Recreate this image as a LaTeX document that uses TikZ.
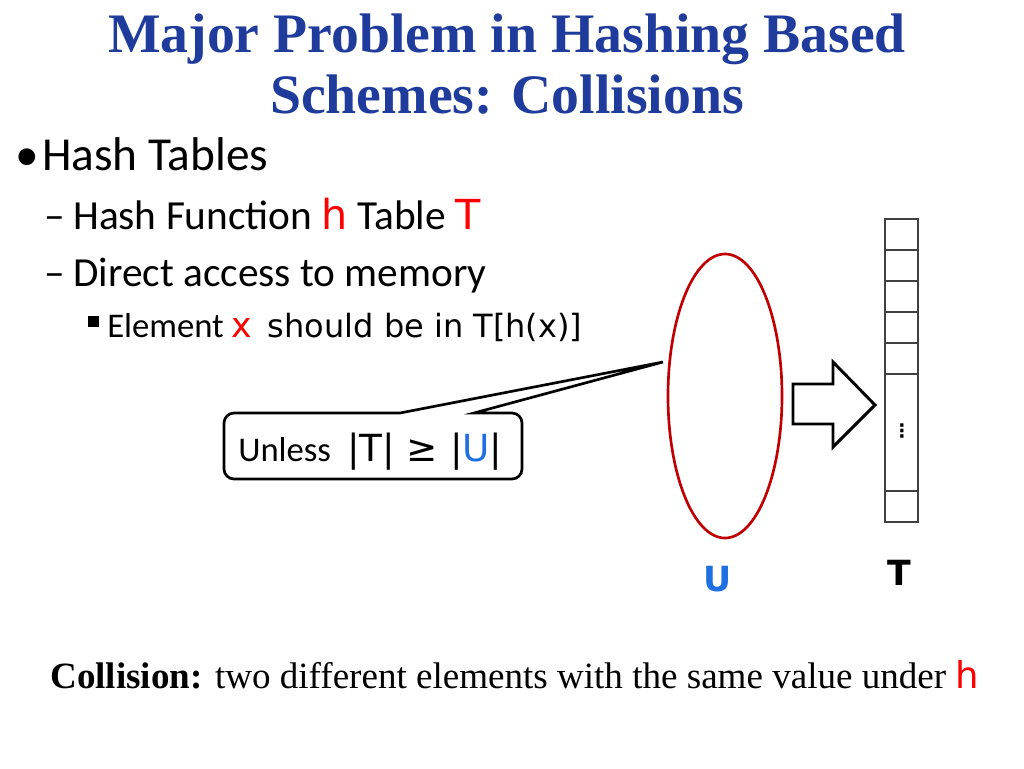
\documentclass[tikz,border=0pt]{standalone}
\usepackage{fontspec}
\setmainfont{Carlito}
\newfontfamily\titlefont{Liberation Serif}
\newfontfamily\comicfont{DejaVu Sans}
\usetikzlibrary{shapes.geometric}
\definecolor{titleblue}{HTML}{1F3C9C}
\definecolor{hred}{HTML}{FF0000}
\definecolor{ellred}{HTML}{C00000}
\definecolor{ublue}{HTML}{1E70E0}
\tikzset{
  titletext/.style={anchor=base, text=titleblue, font=\titlefont\bfseries\fontsize{41.8}{46}\selectfont},
  lvlone/.style={anchor=base west, inner sep=0pt, font=\fontsize{35.5}{40}\selectfont},
  lvltwo/.style={anchor=base west, inner sep=0pt, font=\fontsize{31}{36}\selectfont},
  lvlthree/.style={anchor=base west, inner sep=0pt, font=\fontsize{26}{30}\selectfont},
  cell/.style={draw=black!75, line width=0.9pt},
  lbl/.style={anchor=base, font=\comicfont\fontsize{26}{30}\selectfont}
}
\begin{document}
\begin{tikzpicture}[x=0.75pt,y=-0.75pt]
\useasboundingbox (0,0) rectangle (1024,768);
% title
\node[titletext] (t1) at (507,52) {Major Problem in Hashing Based};
\node[titletext] (t2) at (507,113) {Schemes: Collisions};
% bullets
\node[lvlone] (m1) at (15,170) {•};
\node[lvlone] (b1) at (42,170) {Hash Tables};
\node[lvltwo] (m2) at (44,229) {–};
\node[lvltwo] (b2) at (73,229) {Hash Function {\comicfont\color{hred}h} Table {\comicfont\color{hred}T}};
\node[lvltwo] (m3) at (44,286) {–};
\node[lvltwo] (b3) at (73,286) {Direct access to memory};
\node[lvlthree] (m4) at (88,337) {\raisebox{0.28em}{\rule{0.32em}{0.32em}}};
\node[lvlthree] (b4) at (107,337) {Element {\comicfont\color{hred}x}\ \ {\comicfont\fontsize{24}{28}\selectfont should be in T[h(x)]}};
% ellipse U
\node[draw=ellred, line width=2pt, ellipse, minimum width=85.5pt, minimum height=213pt, inner sep=0pt] (U) at (725,396) {};
% callout
\draw[line width=2pt, fill=white] (474,413) -- (663,362) -- (400,413) [rounded corners=7.5pt] -- (224,413) -- (224,479) -- (522,479) -- (522,413) [sharp corners] -- cycle;
\node[anchor=base west, inner sep=0pt] (call) at (238,461) {{\fontsize{26}{30}\selectfont Unless}\hspace{12pt}{\comicfont\fontsize{28}{32}\selectfont |T| ≥ |{\color{ublue}U}|}};
% block arrow
\draw[line width=2.2pt, fill=white] (793,384) -- (833,384) -- (833,362) -- (875,405) -- (833,447) -- (833,424) -- (793,424) -- cycle;
% table
\foreach \a/\b in {219/250,250/281,281/312,312/343,343/374,374/491,491/522}
  \draw[cell] (885,\a) rectangle (918,\b);
\node[inner sep=0pt, font=\comicfont\bfseries\fontsize{14}{14}\selectfont] (dots) at (902,431) {⋮};
% labels
\node[lbl, text=ublue, font=\comicfont\bfseries\fontsize{26}{30}\selectfont] (ulbl) at (718,591) {U};
\node[lbl, font=\comicfont\bfseries\fontsize{26}{30}\selectfont] (tlbl) at (899,585) {T};
% bottom text
\node[anchor=base west, inner sep=0pt, font=\titlefont\fontsize{27.8}{32}\selectfont] (coll) at (50,688) {\textbf{Collision:} two different elements with the same value under {\comicfont\color{hred}h}};
\end{tikzpicture}
\end{document}
